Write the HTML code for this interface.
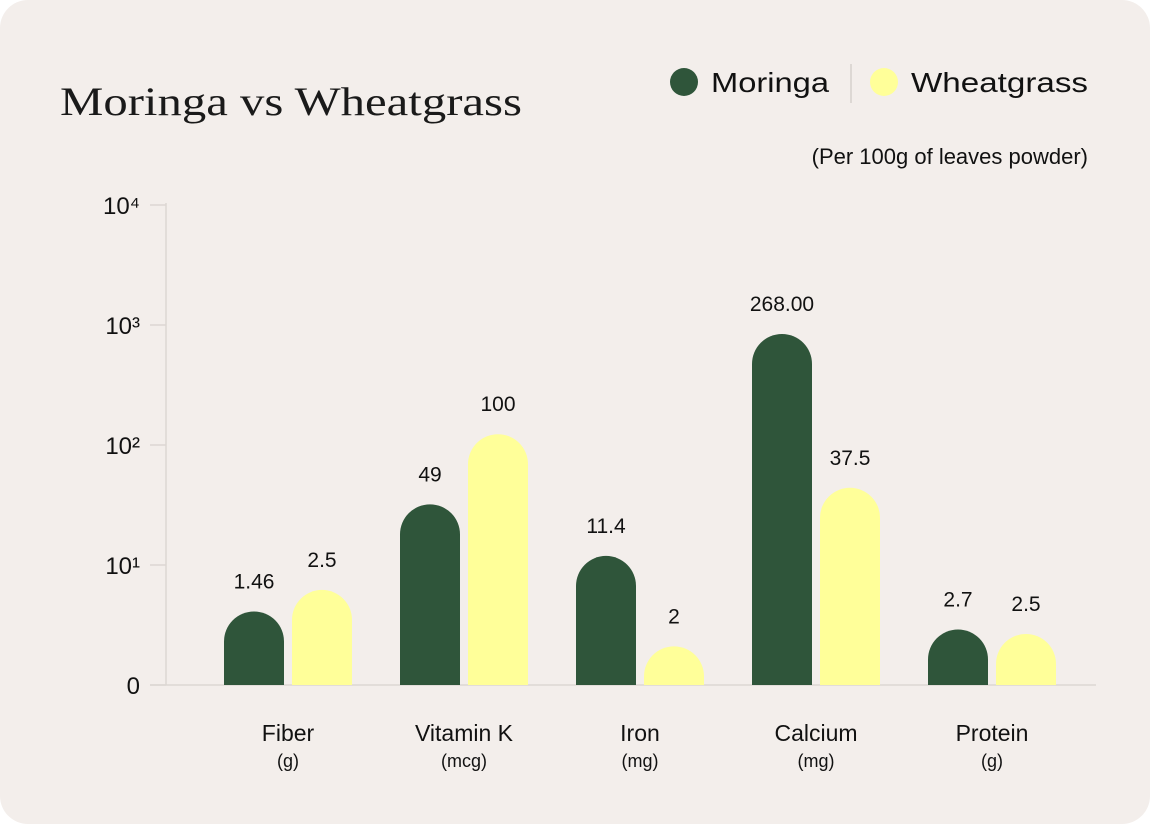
<!DOCTYPE html>
<html><head><meta charset="utf-8"><style>
html,body{margin:0;padding:0;background:#fff;}
svg{display:block;font-family:"Liberation Sans",sans-serif;}
</style></head><body>
<svg id="chart" width="1150" height="824" viewBox="0 0 1150 824">
<rect x="0" y="0" width="1150" height="824" rx="28" fill="#f3eeeb"/>
<text x="60" y="115" font-family="Liberation Serif,serif" font-size="40" fill="#1a1a1a" textLength="462" lengthAdjust="spacingAndGlyphs">Moringa vs Wheatgrass</text>
<g>
<g><circle cx="684" cy="82" r="14" fill="#2f553a"/><text x="711" y="92" font-size="28" fill="#111" textLength="118" lengthAdjust="spacingAndGlyphs">Moringa</text></g>
<line x1="851" y1="64" x2="851" y2="103" stroke="#ddd8d4" stroke-width="2"/>
<g><circle cx="884" cy="82" r="14" fill="#ffff99"/><text x="911" y="92" font-size="28" fill="#111" textLength="177" lengthAdjust="spacingAndGlyphs">Wheatgrass</text></g>
</g>
<text x="1088" y="164" text-anchor="end" font-size="22" fill="#111">(Per 100g of leaves powder)</text>
<g id="axes"></g>
<g id="bars"></g>
</svg>
<script>
const categories=["Fiber","Vitamin K","Iron","Calcium","Protein"];
const units=["(g)","(mcg)","(mg)","(mg)","(g)"];
const moringaValues=[4.1,32,11.9,841,2.9];
const wheatgrassValues=[6.2,123,2.1,44,2.66];
const moringaLabels=["1.46","49","11.4","268.00","2.7"];
const wheatgrassLabels=["2.5","100","2","37.5","2.5"];
const tickValues=[1,10,100,1000,10000];
const tickLabels=["0","10¹","10²","10³","10⁴"];
const NS="http://www.w3.org/2000/svg";
const base=685, decade=120, x0=288, step=176, bw=60;
function y(v){return base-Math.log10(v)*decade;}
function xc(i){return x0+i*step;}
function mk(tag,attrs,parent){const e=document.createElementNS(NS,tag);for(const k in attrs)e.setAttribute(k,attrs[k]);parent.appendChild(e);return e;}
const axes=document.getElementById('axes'),bars=document.getElementById('bars');
const yl=mk('line',{x1:166,y1:203,x2:166,y2:base,stroke:'#dcd7d3','stroke-width':1.5},axes);


const xl=mk('line',{x1:150,y1:base,x2:1096,y2:base,stroke:'#dcd7d3','stroke-width':1.5},axes);


tickValues.forEach((v,i)=>{
 const t=mk('line',{x1:150,y1:y(v),x2:166,y2:y(v),stroke:'#dcd7d3','stroke-width':1.5},axes);
 
 
 const tx=mk('text',{x:140,y:y(v)+9,'text-anchor':'end','font-size':24,fill:'#111'},axes);
 tx.textContent=tickLabels[i];
 
 
});
function bar(cx,v,color,label,name){
 const top=y(v),r=bw/2,x=cx-r;
 const p=mk('path',{d:`M${x},${base} L${x},${top+r} A${r},${r} 0 0 1 ${x+bw},${top+r} L${x+bw},${base} Z`,fill:color},bars);
 
 
 const t=mk('text',{x:cx,y:top-23,'text-anchor':'middle','font-size':21,fill:'#111'},bars);
 t.textContent=label;
 
 
}
categories.forEach((c,i)=>{
 bar(xc(i)-34,moringaValues[i],'#2f553a',moringaLabels[i],'bar-moringa-'+i);
 bar(xc(i)+34,wheatgrassValues[i],'#ffff99',wheatgrassLabels[i],'bar-wheatgrass-'+i);
 const t=mk('text',{x:xc(i),y:741,'text-anchor':'middle','font-size':23,fill:'#111'},axes);
 t.textContent=c;
 
 
 const u=mk('text',{x:xc(i),y:767,'text-anchor':'middle','font-size':18,fill:'#111'},axes);
 u.textContent=units[i];
 
 
});
</script>
</body></html>
